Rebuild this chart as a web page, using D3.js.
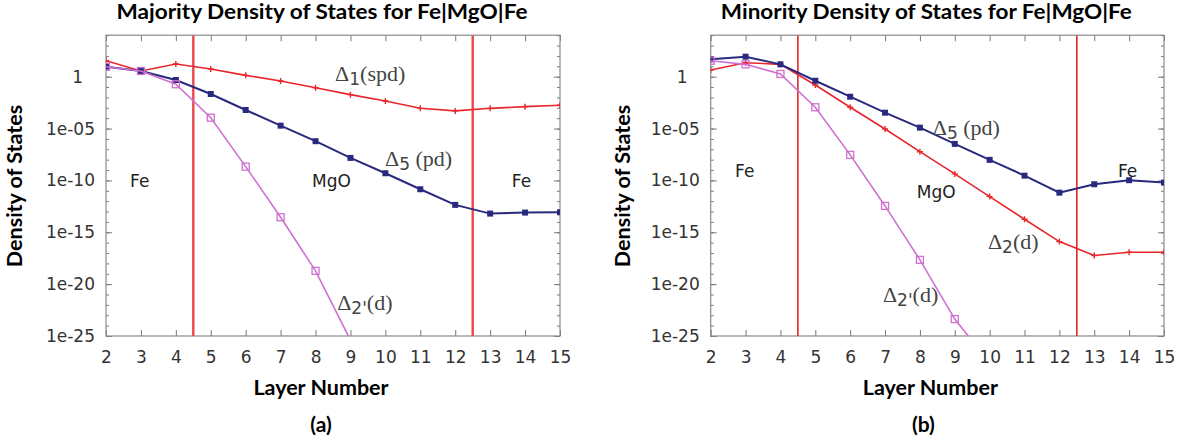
<!DOCTYPE html>
<html>
<head>
<meta charset="utf-8">
<script src="https://cdn.jsdelivr.net/npm/d3@7/dist/d3.min.js"></script>
<style>
  html, body { margin: 0; padding: 0; background: #fff; }
  svg { display: block; }
</style>
</head>
<body>
<svg id="chart" width="1185" height="444"></svg>
<script>
// Layer indices shared by both panels
const layers = [2, 3, 4, 5, 6, 7, 8, 9, 10, 11, 12, 13, 14, 15];

// Majority spin: log10 of the density of states per layer
const majDelta1 = [1.54, 0.55, 1.22, 0.74, 0.13, -0.41, -1.06, -1.73, -2.34, -3.05, -3.30, -3.05, -2.89, -2.76];
const majDelta5 = [0.96, 0.55, -0.32, -1.67, -3.21, -4.72, -6.22, -7.83, -9.31, -10.85, -12.36, -13.20, -13.10, -13.07];
const majDelta2p = [0.96, 0.55, -0.73, -3.95, -8.67, -13.55, -18.72, -25.40, -31.5];

// Minority spin: log10 of the density of states per layer
const minDelta5 = [1.68, 1.93, 1.19, -0.39, -1.93, -3.47, -4.91, -6.48, -8.02, -9.54, -11.18, -10.37, -9.98, -10.21];
const minDelta2 = [0.65, 1.35, 1.19, -0.80, -2.95, -5.04, -7.23, -9.37, -11.56, -13.74, -15.90, -17.24, -16.92, -16.92];
const minDelta2p = [1.54, 1.19, 0.26, -2.95, -7.54, -12.46, -17.66, -23.37, -27.6];

// Fe/MgO interfaces
const interfaces = [4.5, 12.5];

// Axis ticks
const xTicks = layers;
const yMajorTicks = [1e-25, 1e-20, 1e-15, 1e-10, 1e-5, 1];
const yTickLabels = ["1e-25", "1e-20", "1e-15", "1e-10", "1e-05", "1"];
const yMinorExponents = d3.range(-25, 5);

const titles = ["Majority Density of States for Fe|MgO|Fe", "Minority Density of States for Fe|MgO|Fe"];
const panelTags = ["(a)", "(b)"];

const svg = d3.select("#chart");

const colors = { red: "#e8262b", blue: "#29297f", magenta: "#d070d0" };
const sansFont = "'DejaVu Sans', 'Liberation Sans', sans-serif";
const boldFont = "Lato, 'Open Sans', sans-serif";

const panels = [
  {
    left: 106, right: 560,
    title: titles[0], tag: panelTags[0],
    titleShift: -11, xLabelShift: -12, tagShift: -12, yLabelGap: 84,
    interfaceWidth: 2.4, interfaceColor: "#e9474b",
    series: [
      { values: majDelta1, color: colors.red, marker: "plus" },
      { values: majDelta5, color: colors.blue, marker: "box" },
      { values: majDelta2p, color: colors.magenta, marker: "openbox" }
    ],
    notes: [
      { kind: "delta", sub: "1", rest: "(spd)", x: 8.56, y: -0.45 },
      { kind: "delta", sub: "5", rest: " (pd)", x: 9.99, y: -8.65 },
      { kind: "delta", sub: "2'", rest: "(d)", x: 8.62, y: -22.45 },
      { kind: "plain", text: "Fe", x: 2.69, y: -10.6 },
      { kind: "plain", text: "MgO", x: 7.9, y: -10.6 },
      { kind: "plain", text: "Fe", x: 13.62, y: -10.6 }
    ]
  },
  {
    left: 710.7, right: 1164,
    title: titles[1], tag: panelTags[1],
    titleShift: -11, xLabelShift: -7, tagShift: -14, yLabelGap: 81,
    interfaceWidth: 1.6, interfaceColor: "#e0262b",
    series: [
      { values: minDelta2, color: colors.red, marker: "plus" },
      { values: minDelta5, color: colors.blue, marker: "box" },
      { values: minDelta2p, color: colors.magenta, marker: "openbox" }
    ],
    notes: [
      { kind: "delta", sub: "5", rest: " (pd)", x: 8.37, y: -5.6 },
      { kind: "delta", sub: "2", rest: "(d)", x: 9.95, y: -16.65 },
      { kind: "delta", sub: "2'", rest: "(d)", x: 6.94, y: -21.75 },
      { kind: "plain", text: "Fe", x: 2.70, y: -9.65 },
      { kind: "plain", text: "MgO", x: 7.91, y: -11.65 },
      { kind: "plain", text: "Fe", x: 13.68, y: -9.65 }
    ]
  }
];

const plotTop = 35.2, plotBottom = 336;

panels.forEach((p, i) => {
  const x = d3.scaleLinear().domain([2, 15]).range([p.left, p.right]);
  const y = d3.scaleLog().domain([1e-25, 1e4]).range([plotBottom, plotTop]);
  const g = svg.append("g");

  const clipId = "clip" + i;
  svg.append("defs").append("clipPath").attr("id", clipId)
    .append("rect").attr("x", p.left).attr("y", plotTop)
    .attr("width", p.right - p.left).attr("height", plotBottom - plotTop);

  // Inward ticks on all four sides
  const tickColor = "#777";
  const bottomAxis = d3.axisBottom(x).tickValues(xTicks).tickSize(-6).tickFormat(d => d);
  const gx = g.append("g").attr("transform", `translate(0,${plotBottom})`).call(bottomAxis);
  gx.attr("font-family", null).attr("font-size", null);
  gx.select(".domain").remove();
  gx.selectAll(".tick line").attr("stroke", tickColor);
  gx.selectAll(".tick text")
    .attr("y", 15).attr("dy", "0.71em")
    .attr("fill", "#333")
    .style("font-family", sansFont)
    .style("font-size", "17px");

  const topAxis = d3.axisTop(x).tickValues(xTicks).tickSize(-6).tickFormat("");
  const gt = g.append("g").attr("transform", `translate(0,${plotTop})`).call(topAxis);
  gt.select(".domain").remove();
  gt.selectAll(".tick line").attr("stroke", tickColor);

  const minorVals = yMinorExponents.map(e => Math.pow(10, e));
  [[d3.axisLeft, p.left, -1], [d3.axisRight, p.right, 1]].forEach(([ax, pos, side]) => {
    const gm = g.append("g").attr("transform", `translate(${pos},0)`)
      .call(ax(y).tickValues(minorVals).tickSize(-3).tickFormat(""));
    gm.select(".domain").remove();
    gm.selectAll(".tick line").attr("stroke", tickColor);
    const gM = g.append("g").attr("transform", `translate(${pos},0)`)
      .call(ax(y).tickValues(yMajorTicks).tickSize(-6)
        .tickFormat((d, k) => side < 0 ? yTickLabels[k] : ""));
    gM.attr("font-family", null).attr("font-size", null);
    gM.select(".domain").remove();
    gM.selectAll(".tick line").attr("stroke", tickColor);
    if (side < 0) {
      gM.selectAll(".tick text")
        .attr("x", (d, k) => yTickLabels[k] === "1" ? -23 : -11)
        .attr("fill", "#333")
        .style("font-family", sansFont)
        .style("font-size", "17px");
    }
  });

  // Frame
  g.append("rect").attr("x", p.left).attr("y", plotTop)
    .attr("width", p.right - p.left).attr("height", plotBottom - plotTop)
    .attr("fill", "none").attr("stroke", "#8a8a8a").attr("stroke-width", 1.2);

  const plot = g.append("g").attr("clip-path", `url(#${clipId})`);

  // Interface markers
  plot.selectAll("line.iface").data(interfaces).join("line")
    .attr("class", "iface")
    .attr("x1", d => x(d)).attr("x2", d => x(d))
    .attr("y1", plotTop).attr("y2", plotBottom)
    .attr("stroke", p.interfaceColor).attr("stroke-width", p.interfaceWidth);

  // Curves
  const line = d3.line().x(d => x(d[0])).y(d => y(Math.pow(10, d[1])));
  p.series.forEach(s => {
    const pts = s.values.map((v, k) => [layers[k], v]);
    plot.append("path").datum(pts)
      .attr("d", line).attr("fill", "none")
      .attr("stroke", s.color).attr("stroke-width", s.marker === "box" ? 2 : 1.6);

    const mk = plot.append("g").selectAll("g").data(pts).join("g")
      .attr("transform", d => `translate(${x(d[0])},${y(Math.pow(10, d[1]))})`);
    if (s.marker === "plus") {
      mk.append("path").attr("d", "M-3,0H3M0,-3V3")
        .attr("stroke", s.color).attr("stroke-width", 1.4);
    } else if (s.marker === "box") {
      mk.append("rect").attr("x", -3).attr("y", -3).attr("width", 6).attr("height", 6)
        .attr("fill", s.color);
    } else {
      mk.append("rect").attr("x", -3.5).attr("y", -3.5).attr("width", 7).attr("height", 7)
        .attr("fill", "none").attr("stroke", s.color).attr("stroke-width", 1.3);
    }
  });

  // Region and band annotations
  p.notes.forEach(n => {
    const t = g.append("text")
      .attr("x", x(n.x)).attr("y", y(Math.pow(10, n.y)));
    if (n.kind === "plain") {
      t.text(n.text).attr("fill", "#222")
        .style("font-family", sansFont)
        .style("font-size", "17px");
    } else {
      t.attr("fill", "#444")
        .style("font-family", "'Liberation Serif', 'Times New Roman', serif")
        .style("font-size", "22px");
      t.append("tspan").text("\u0394");
      t.append("tspan").text(n.sub).attr("dy", 4).style("font-size", "17px")
        .style("font-family", sansFont);
      t.append("tspan").text(n.rest).attr("dy", -4);
    }
  });

  const cx = (p.left + p.right) / 2;
  // Title
  svg.append("text").attr("x", cx + p.titleShift).attr("y", 19)
    .attr("text-anchor", "middle")
    .attr("textLength", 411).attr("lengthAdjust", "spacingAndGlyphs")
    .style("font-family", boldFont).style("font-weight", "bold")
    .style("font-size", "20px").text(p.title);

  // Axis titles
  svg.append("text").attr("x", cx + p.xLabelShift).attr("y", 395)
    .attr("text-anchor", "middle")
    .style("font-family", boldFont).style("font-weight", "bold")
    .style("font-size", "21.5px").text("Layer Number");

  svg.append("text")
    .attr("transform", `translate(${p.left - p.yLabelGap},186) rotate(-90)`)
    .attr("text-anchor", "middle")
    .style("font-family", boldFont).style("font-weight", "bold")
    .style("font-size", "21.5px").text("Density of States");

  svg.append("text").attr("x", cx + p.tagShift).attr("y", 432)
    .attr("text-anchor", "middle")
    .style("font-family", boldFont).style("font-weight", "bold")
    .style("font-size", "21px").text(p.tag);
});
</script>
</body>
</html>
